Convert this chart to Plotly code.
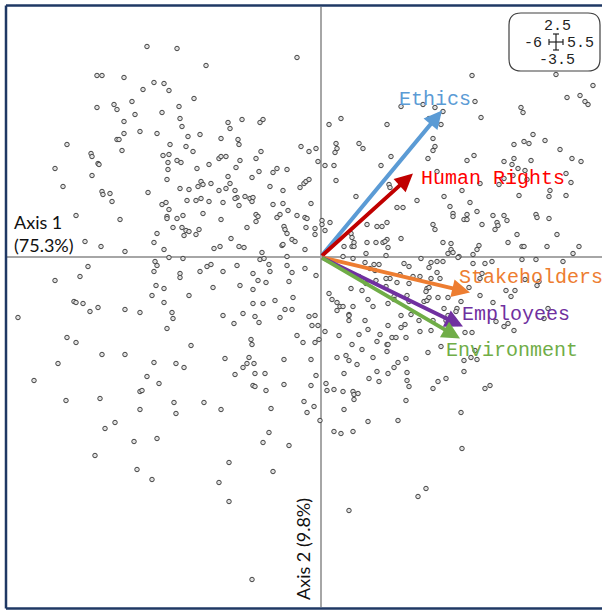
import plotly.graph_objects as go

# ---- observation scores (Axis 1, Axis 2) ----
obs_x = [
-3.321,-2.746,-2.191,-0.450,-4.278,-4.182,-3.761,-3.187,-2.995,-3.397,-2.900,-2.421,-4.278,-3.952,-3.895,-3.608,-3.550,-3.033,-2.708,-2.689,
-2.651,-1.770,-1.732,-1.502,-1.158,-1.100,-3.761,-3.761,-3.455,-3.129,-3.895,-3.856,-3.799,-2.306,-2.536,-2.880,-2.574,-2.440,-1.904,-1.579,
-1.560,-1.139,-1.234,-4.852,-4.392,-4.373,-4.258,-4.239,-5.081,-4.373,-4.928,-4.182,-4.163,-4.029,-3.990,-3.014,-2.919,-2.900,-2.746,-2.670,
-2.919,-2.938,-2.364,-2.134,-1.943,-1.904,-1.809,-1.541,-1.617,-1.177,-1.311,-0.909,-0.833,-0.641,-2.689,-2.517,-2.344,-2.287,-2.249,-2.096,
-1.770,-1.732,-1.943,-1.809,-1.636,-1.598,-1.445,-1.349,-1.292,-1.311,-0.967,-0.718,-0.392,-3.301,-3.033,-2.957,-2.900,-2.938,-2.938,-2.746,
-2.632,-2.555,-2.383,-2.287,-2.134,-2.249,-1.866,-1.636,-1.560,-1.904,-1.407,-1.234,-1.196,-1.234,-0.909,-0.718,-0.622,-0.833,-0.775,-0.450,
-0.699,-0.679,-0.641,-0.545,-0.488,-0.737,-0.718,-2.823,-2.651,-2.574,-2.612,-2.517,-2.383,-2.325,-3.129,-3.187,-3.837,-4.679,-4.507,-4.201,
-3.742,-2.995,-2.038,-1.923,-1.713,-1.560,-1.464,-4.450,-5.081,-4.603,-3.167,-3.129,-3.187,-2.900,-2.632,-2.689,-2.689,-2.517,-3.148,-2.995,
-3.225,-2.306,-2.172,-2.096,-1.866,-1.598,-2.057,-1.541,-1.292,-1.292,-1.196,-1.158,-1.081,-1.120,-0.986,-0.967,-1.043,-0.641,-0.641,-0.545,
-0.603,-0.526,
-5.790,-4.718,-4.679,-4.545,-4.412,-4.258,-3.742,-3.455,-2.995,-2.842,-2.823,-2.938,-1.866,-1.656,-1.483,-1.292,-1.100,-1.254,-1.177,-0.871,
-0.679,-0.545,-0.775,-0.450,-4.852,-4.679,-4.182,-3.742,-5.024,-5.483,-3.187,-2.766,-2.612,-3.321,-3.091,-3.455,-3.416,-4.871,-4.220,-3.455,
-2.804,-2.766,-2.230,-1.904,-2.478,-1.330,-1.311,-1.828,-1.368,-1.407,-1.483,-1.273,-1.636,-1.254,-1.062,-0.699,-0.699,-1.292,-1.254,-1.043,
-0.947,-3.933,-4.124,-3.569,-3.129,-4.316,-3.512,-3.225,-1.751,-1.943,-1.751,-0.986,-1.100,-0.909,-0.603,-1.311,
2.900,4.507,5.215,4.718,4.967,5.062,5.120,2.957,3.072,3.837,3.876,2.344,2.191,1.962,1.541,2.077,2.306,1.273,0.392,0.163,
0.737,0.813,0.297,0.316,0.278,-0.373,-0.220,-0.086,-0.048,0.086,0.258,0.297,1.158,1.349,2.153,2.191,2.153,2.057,2.230,2.804,
2.938,2.708,3.053,4.067,4.297,3.895,3.990,3.703,4.584,3.703,3.512,3.665,4.029,3.780,3.914,4.813,4.986,4.699,4.794,4.392,
4.373,3.799,4.699,0.679,1.311,1.330,-0.316,-0.278,-0.220,2.364,3.684,3.512,3.952,3.416,
-0.182,-0.297,-0.258,-0.278,-0.105,-0.105,-0.297,0.029,0.029,0.086,0.182,0.584,0.603,0.641,0.603,0.641,0.450,0.890,1.081,1.177,
1.273,0.890,1.062,1.196,1.273,1.234,1.292,0.871,1.254,1.464,1.579,1.847,1.541,2.153,2.191,2.344,2.498,2.498,2.440,2.536,
2.478,2.536,2.536,2.746,2.804,2.804,2.861,2.995,3.091,2.995,3.033,2.919,2.651,3.301,3.512,3.378,3.569,3.340,3.397,3.761,
4.124,4.144,4.373,4.526,3.589,3.856,3.895,4.335,4.947,4.833,3.856,4.124,4.641,3.148,3.282,2.919,2.632,2.344,1.923,2.115,
2.230,2.077,2.230,2.287,2.115,2.038,2.019,1.904,1.770,1.694,1.598,1.522,1.694,1.464,1.330,1.254,1.120,1.024,0.947,1.043,
0.852,0.622,0.431,1.062,1.254,0.871,0.737,0.794,0.584,-0.297,-0.086,0.163,0.220,0.316,0.373,0.431,0.316,0.545,0.622,0.909,
1.005,1.292,1.407,1.407,1.656,1.541,1.732,1.694,1.981,2.038,2.077,2.077,2.249,2.440,2.364,2.440,2.612,2.593,2.689,2.842,
3.053,3.053,3.091,3.301,3.550,3.722,3.646,4.144,4.182,3.914,4.354,4.278,3.512,3.589,3.703,3.359,2.766,2.900,2.957,2.995,
2.880,2.746,2.746,2.057,2.306,2.115,1.885,2.153,2.402,1.904,1.617,1.636,1.541,1.368,1.445,1.292,1.273,1.292,1.273,1.139,
1.081,0.852,0.794,1.005,0.909,0.737,0.603,0.545,0.545,0.354,0.316,0.488,0.545,0.450,0.699,0.928,1.081,1.292,1.483,1.407,
1.636,1.656,1.656,1.694,1.120,0.622,0.641,0.718,0.431,0.258,0.105,0.124,2.249,2.402,2.153,3.148,3.244,0.086,-0.220,-0.105,
-0.163,-0.048,-0.105,-0.029,-0.335,-0.182,-0.086,-0.182,
-0.316,-0.258,-0.124,-0.010,0.258,0.392,0.450,0.622,0.641,0.909,1.483,1.636,2.689,2.708,2.019,1.866,0.545,
]
obs_y = [
2.105,2.085,1.915,1.995,1.815,1.815,1.795,1.745,1.735,1.675,1.665,1.585,1.495,1.525,1.475,1.555,1.425,1.445,1.505,1.385,
1.305,1.345,1.285,1.375,1.345,1.375,1.355,1.235,1.255,1.235,1.175,1.175,1.065,1.225,1.205,1.125,1.105,1.055,1.185,1.175,
1.125,1.055,0.985,1.125,1.035,1.005,0.935,0.925,0.885,0.815,0.705,0.655,0.625,0.635,0.555,1.015,0.945,1.025,0.965,0.945,
0.875,0.775,0.885,0.925,0.985,1.005,1.005,0.965,0.895,0.855,0.795,0.845,0.885,0.875,0.685,0.675,0.705,0.755,0.725,0.735,
0.805,0.735,0.665,0.685,0.665,0.595,0.605,0.585,0.595,0.555,0.705,0.665,0.695,0.645,0.525,0.545,0.475,0.405,0.385,0.385,
0.415,0.565,0.565,0.585,0.555,0.435,0.545,0.585,0.515,0.375,0.295,0.425,0.405,0.355,0.525,0.535,0.465,0.395,0.425,0.415,
0.305,0.275,0.235,0.175,0.155,0.115,0.125,0.295,0.295,0.265,0.215,0.255,0.225,0.275,0.235,0.145,0.375,0.415,0.155,0.105,
0.055,0.075,0.085,0.105,0.185,0.105,0.095,-0.095,-0.235,-0.195,-0.045,-0.085,-0.145,-0.005,-0.015,-0.165,-0.205,-0.385,-0.285,-0.315,
-0.385,-0.145,-0.095,-0.075,-0.145,-0.085,-0.305,-0.285,-0.165,-0.325,-0.235,-0.025,-0.015,0.045,-0.075,-0.145,-0.255,0.005,-0.085,-0.155,
-0.245,-0.405,
-0.605,-0.445,-0.455,-0.465,-0.545,-0.505,-0.525,-0.555,-0.455,-0.555,-0.615,-0.715,-0.585,-0.665,-0.565,-0.465,-0.465,-0.595,-0.655,-0.435,
-0.525,-0.525,-0.605,-0.785,-0.805,-0.855,-0.975,-0.975,-1.065,-1.235,-1.055,-1.065,-1.105,-1.195,-1.265,-1.345,-1.335,-1.435,-1.415,-1.525,
-1.455,-1.565,-1.455,-1.525,-0.885,-0.825,-0.875,-1.015,-1.005,-1.065,-1.105,-1.065,-1.175,-1.165,-1.165,-1.025,-1.275,-1.285,-1.295,-1.335,
-1.515,-1.655,-1.715,-1.845,-1.815,-1.985,-2.125,-2.225,-2.055,-2.255,-2.445,-1.755,-1.855,-2.145,-1.885,-3.225,
1.815,1.825,1.715,1.595,1.615,1.555,1.525,1.555,1.395,1.495,1.445,1.455,1.495,1.525,1.505,1.385,1.325,1.325,1.385,1.325,
1.135,1.085,1.135,1.085,1.045,1.105,1.055,1.085,0.955,0.915,0.915,0.765,0.915,1.005,1.185,1.105,1.065,0.985,0.855,0.965,
1.015,0.665,0.735,1.225,1.165,1.155,1.135,1.125,1.075,0.985,0.955,0.925,0.965,0.885,0.865,0.985,0.955,0.835,0.745,0.665,
0.605,0.615,0.615,0.605,0.725,0.695,0.735,0.755,0.775,0.605,0.815,0.785,0.775,0.725,
0.535,0.395,0.385,0.295,0.285,0.225,0.075,0.365,0.325,0.265,0.345,0.235,0.195,0.145,0.105,0.105,0.105,0.325,0.305,0.305,
0.345,0.145,0.145,0.145,0.175,0.155,0.095,0.035,0.015,0.495,0.495,0.565,0.185,0.325,0.275,0.145,0.135,0.075,0.035,0.045,
0.505,0.435,0.405,0.375,0.425,0.375,0.545,0.455,0.325,0.075,0.115,0.025,0.005,0.415,0.415,0.345,0.365,0.275,0.315,0.225,
0.425,0.395,0.385,0.225,0.145,0.105,0.105,0.105,0.105,0.035,-0.025,-0.025,-0.045,-0.065,-0.045,-0.065,-0.005,-0.045,-0.015,-0.055,
-0.045,-0.105,-0.155,-0.215,-0.215,-0.315,-0.345,-0.195,-0.195,-0.095,-0.065,-0.175,-0.265,-0.255,-0.215,-0.215,-0.075,-0.075,-0.115,-0.135,
-0.055,-0.015,0.005,-0.235,-0.295,-0.265,-0.195,-0.335,-0.315,-0.115,-0.185,-0.365,-0.425,-0.455,-0.495,-0.495,-0.535,-0.575,-0.495,-0.425,
-0.495,-0.465,-0.395,-0.425,-0.385,-0.585,-0.575,-0.445,-0.445,-0.435,-0.405,-0.305,-0.405,-0.405,-0.515,-0.585,-0.515,-0.545,-0.445,-0.305,
-0.385,-0.215,-0.165,-0.455,-0.335,-0.335,-0.395,-0.285,-0.245,-0.225,-0.515,-0.615,-0.695,-0.665,-0.735,-0.645,-0.755,-0.755,-0.935,-1.025,
-1.005,-1.035,-1.145,-0.955,-0.895,-0.735,-0.635,-0.635,-0.635,-0.745,-0.675,-0.805,-0.705,-0.805,-0.805,-0.685,-0.875,-0.875,-0.945,-0.775,
-0.845,-0.635,-0.925,-1.005,-0.725,-0.775,-0.875,-0.585,-0.635,-0.785,-1.005,-0.985,-1.035,-1.165,-1.075,-1.215,-1.145,-1.165,-1.055,-1.105,
-1.015,-1.155,-1.235,-1.295,-1.245,-1.345,-1.375,-1.365,-1.345,-1.325,-1.265,-1.335,-1.245,-1.215,-1.315,-1.315,-1.285,-0.745,-0.595,-0.585,
-0.685,-0.685,-0.855,-0.825,-0.855,-1.025,-1.185,-1.285,
-1.445,-1.555,-1.495,-1.635,-1.745,-1.765,-1.525,-1.745,-1.425,-1.645,-1.635,-1.435,-1.555,-1.915,-2.315,-2.395,-2.535,
]

# ---- variable loadings ----
var_names = ["Ethics", "Human Rights", "Stakeholders", "Employees", "Environment"]
var_x = [2.325, 1.770, 2.861, 2.727, 2.670]
var_y = [1.465, 0.835, -0.355, -0.695, -0.815]
arrow_colors = ["#5B9BD5", "#C00000", "#ED7D31", "#7030A0", "#70AD47"]
label_colors = ["#5B9BD5", "#FF0000", "#ED7D31", "#7030A0", "#70AD47"]
label_x = [1.464, 1.885, 2.612, 2.670, 2.364]
label_y = [1.575, 0.785, -0.205, -0.575, -0.935]

axis1_title = "Axis 1<br>(75.3%)"
axis2_title = "Axis 2 (9.8%)"
range_top, range_left, range_right, range_bottom = "2.5", "-6", "5.5", "-3.5"

n = min(len(obs_x), len(obs_y))

W, H = 602, 610
ML, MR, MT, MB = 7, 0, 7, 3
PW, PH = W - ML - MR, H - MT - MB

def px(x):
    return (x - ML) / PW

def py(y):
    return (H - MB - y) / PH

fig = go.Figure()
fig.add_trace(go.Scatter(
    x=obs_x[:n], y=obs_y[:n], mode="markers",
    marker=dict(symbol="circle", size=4.5, color="#e0e0e0",
                line=dict(color="#444444", width=1)),
    hoverinfo="skip", showlegend=False))

annotations = []
for name, vx, vy, ac, lc, lx, ly in zip(var_names, var_x, var_y, arrow_colors,
                                         label_colors, label_x, label_y):
    annotations.append(dict(
        x=vx, y=vy, ax=0, ay=0, xref="x", yref="y", axref="x", ayref="y",
        text="", showarrow=True, arrowhead=2, arrowsize=0.9, arrowwidth=4,
        arrowcolor=ac, standoff=0, startstandoff=0))
    annotations.append(dict(
        x=lx, y=ly, xref="x", yref="y", text=name, showarrow=False,
        xanchor="left", yanchor="middle",
        font=dict(family="Liberation Mono, Courier New, monospace", size=20, color=lc)))

annotations.append(dict(
    x=px(12), y=py(233), xref="paper", yref="paper", text=axis1_title,
    showarrow=False, xanchor="left", yanchor="middle", align="left",
    font=dict(family="Lato, Open Sans, sans-serif", size=18, color="#111111")))
annotations.append(dict(
    x=px(303), y=py(549), xref="paper", yref="paper", text=axis2_title,
    showarrow=False, xanchor="center", yanchor="middle", textangle=-90,
    font=dict(family="Lato, Open Sans, sans-serif", size=18, color="#111111")))

mono = dict(family="Liberation Mono, Courier New, monospace", size=15, color="#222222")
for txt, cx, cy in [(range_top, 557, 27), (range_left, 533, 43),
                    (range_right, 580, 43), (range_bottom, 557, 60)]:
    annotations.append(dict(x=px(cx), y=py(cy), xref="paper", yref="paper",
                            text=txt, showarrow=False, xanchor="center",
                            yanchor="middle", font=mono))

shapes = []
# outer navy frame (left, top, bottom edges; right edge lies outside the view)
frame = dict(color="#1F3864", width=2.5)
for (a, b) in [((6, 5.5), (6, 608.5)), ((6, 5.5), (602, 5.5)), ((6, 608.5), (602, 608.5))]:
    shapes.append(dict(type="line", xref="paper", yref="paper",
                       x0=px(a[0]), y0=py(a[1]), x1=px(b[0]), y1=py(b[1]),
                       line=frame, layer="above"))
# rounded range box
x0, x1, y0, y1 = px(509), px(600), py(71), py(13)
rx, ry = 12 / PW, 12 / PH
path = (f"M {x0+rx},{y1} L {x1-rx},{y1} Q {x1},{y1} {x1},{y1-ry} "
        f"L {x1},{y0+ry} Q {x1},{y0} {x1-rx},{y0} L {x0+rx},{y0} "
        f"Q {x0},{y0} {x0},{y0+ry} L {x0},{y1-ry} Q {x0},{y1} {x0+rx},{y1} Z")
shapes.append(dict(type="path", xref="paper", yref="paper", path=path,
                   line=dict(color="#404040", width=1.2), fillcolor="white",
                   layer="below"))
# cross icon
cx, cy = 556, 42
icon = [((cx, cy - 8), (cx, cy + 8)), ((cx - 7, cy), (cx + 7, cy)),
        ((cx - 3, cy - 8), (cx + 3, cy - 8)), ((cx - 3, cy + 8), (cx + 3, cy + 8)),
        ((cx - 7, cy - 3), (cx - 7, cy + 3)), ((cx + 7, cy - 3), (cx + 7, cy + 3))]
for (a, b) in icon:
    shapes.append(dict(type="line", xref="paper", yref="paper",
                       x0=px(a[0]), y0=py(a[1]), x1=px(b[0]), y1=py(b[1]),
                       line=dict(color="#222222", width=1.2)))

x_left = -6.0
x_right = x_left + PW / 52.25
fig.update_layout(
    width=W, height=H, margin=dict(l=ML, r=MR, t=MT, b=MB),
    paper_bgcolor="white", plot_bgcolor="white",
    xaxis=dict(range=[x_left, x_right], showgrid=False, zeroline=True,
               zerolinecolor="#A6A6A6", zerolinewidth=1.5, showticklabels=False,
               ticks="", showline=False, fixedrange=True),
    yaxis=dict(range=[-3.5, 2.5], showgrid=False, zeroline=True,
               zerolinecolor="#A6A6A6", zerolinewidth=1.5, showticklabels=False,
               ticks="", showline=False, fixedrange=True),
    annotations=annotations, shapes=shapes, showlegend=False)

fig.write_html("out.html", config={"displayModeBar": False},
               post_script="document.body.style.margin='0px';document.body.style.overflow='hidden';")
